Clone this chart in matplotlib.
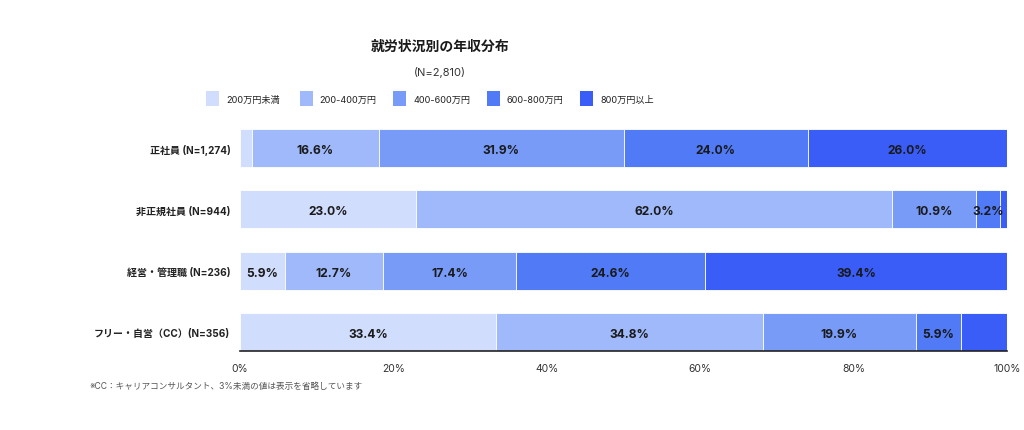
import numpy as np
import matplotlib
matplotlib.use("Agg")
import matplotlib.pyplot as plt
from matplotlib.patches import Rectangle

plt.rcParams['font.family'] = ['Inter', 'Noto Sans CJK JP', 'DejaVu Sans']

# データ
groups = ["正社員 (N=1,274)", "非正規社員 (N=944)", "経営・管理職 (N=236)", "フリー・自営（CC）(N=356)"]
bands = ["200万円未満", "200-400万円", "400-600万円", "600-800万円", "800万円以上"]
under200 = [1.5, 23.0, 5.9, 33.4]
r200_400 = [16.6, 62.0, 12.7, 34.8]
r400_600 = [31.9, 10.9, 17.4, 19.9]
r600_800 = [24.0, 3.2, 24.6, 5.9]
over800 = [26.0, 0.9, 39.4, 6.0]
# 表示しないラベル (グループ番号, 区分番号)
hidden = {(3, 4)}

colors = ["#d0ddfc", "#9fb9fa", "#789bf8", "#507af6", "#3a5cf7"]
series = [under200, r200_400, r400_600, r600_800, over800]

fig = plt.figure(figsize=(10.24, 4.31), dpi=100)
ax = fig.add_axes([240 / 1024, 1 - 352 / 431, 767 / 1024, 222 / 431])

y = np.arange(len(groups))
left = np.zeros(len(groups))
for j, (vals, c) in enumerate(zip(series, colors)):
    vals = np.array(vals)
    ax.barh(y, vals, left=left, height=0.62, color=c, edgecolor="white", linewidth=0.6)
    for i, v in enumerate(vals):
        if v >= 3 and (i, j) not in hidden:
            ax.text(left[i] + v / 2, y[i] + 0.03, f"{v:.1f}%", ha="center", va="center",
                    fontsize=8.7, fontweight="bold", color="#1a1a1a")
    left += vals

ax.set_xlim(0, 100)
ax.set_ylim(3.31, -0.31)
ax.set_yticks(y)
ax.set_yticklabels(groups, fontsize=7.2, fontweight="bold", color="#222222")
ax.set_xticks(range(0, 101, 20))
ax.set_xticklabels([f"{t}%" for t in range(0, 101, 20)], fontsize=7.5, color="#333333")
ax.tick_params(axis="both", length=0)
ax.tick_params(axis="x", pad=9)
ax.tick_params(axis="y", pad=7)
for s in ["top", "right", "left"]:
    ax.spines[s].set_visible(False)
ax.spines["bottom"].set_color("#222222")
ax.spines["bottom"].set_linewidth(1.2)

# タイトル
fig.text(440 / 1024, 1 - 47 / 431, "就労状況別の年収分布", ha="center", va="center",
         fontsize=10, fontweight="bold", color="#1a1a1a")
fig.text(440 / 1024, 1 - 72 / 431, "(N=2,810)", ha="center", va="center",
         fontsize=8, color="#333333")

# 凡例
for k, (lab, c) in enumerate(zip(bands, colors)):
    px = 206 + k * 93.6
    fig.add_artist(Rectangle((px / 1024, 1 - 107 / 431), 13 / 1024, 15 / 431,
                             transform=fig.transFigure, facecolor=c, edgecolor="none"))
    fig.text((px + 20) / 1024, 1 - 100 / 431, lab, ha="left", va="center",
             fontsize=6.6, color="#222222")

# 注記
fig.text(90 / 1024, 1 - 387 / 431, "※CC：キャリアコンサルタント、3%未満の値は表示を省略しています",
         ha="left", va="center", fontsize=6.2, color="#555555")

fig.savefig("out.png", dpi=100)
